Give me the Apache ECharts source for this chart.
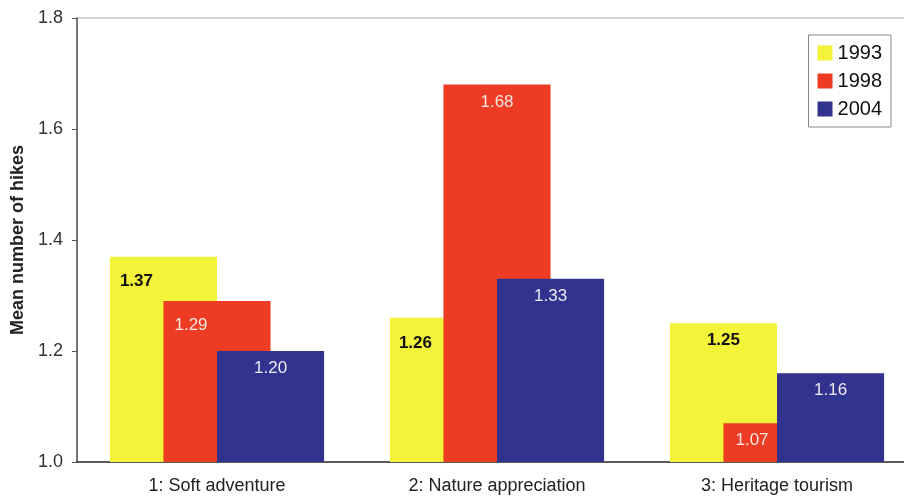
<!DOCTYPE html>
<html><head><meta charset="utf-8">
<script src="https://cdn.jsdelivr.net/npm/echarts@6/dist/echarts.min.js"></script>
<style>html,body{margin:0;padding:0;background:#fff}#c{width:904px;height:496px}</style>
</head><body><div id="c"></div>
<script>
var categories = ['1: Soft adventure', '2: Nature appreciation', '3: Heritage tourism'];
var seriesNames = ['1993', '1998', '2004'];
var values1993 = [1.37, 1.26, 1.25];
var values1998 = [1.29, 1.68, 1.07];
var values2004 = [1.20, 1.33, 1.16];
var yTicks = [1.0, 1.2, 1.4, 1.6, 1.8];

var colors = ['#f3f33a', '#ee3b24', '#31338f'];
var labelColors = ['#111', '#f6e4de', '#eceaf4'];
var labelWeights = ['bold', 'normal', 'normal'];
// per-item label nudges (pixels) so labels sit in the visible part of overlapped bars
var labelOffsets = [
  [[-27, 7], [-28, 8], [0, 0]],
  [[-26, 7], [0, 0], [-25, 0]],
  [[0, 0], [0, 0], [0, 0]]
];
var allValues = [values1993, values1998, values2004];

var series = seriesNames.map(function (name, si) {
  return {
    name: name,
    type: 'bar',
    barGap: '-50%',
    barCategoryGap: '23.5%',
    itemStyle: { color: colors[si] },
    label: {
      show: true,
      position: 'insideTop',
      distance: 9,
      fontFamily: 'Liberation Sans, Arial, sans-serif',
      fontSize: 17,
      color: labelColors[si],
      fontWeight: labelWeights[si],
      formatter: function (p) { return p.value.toFixed(2); }
    },
    data: allValues[si].map(function (v, i) {
      return { value: v, label: { offset: labelOffsets[si][i] } };
    })
  };
});

var chart = echarts.init(document.getElementById('c'));
chart.setOption({
  animation: false,
  backgroundColor: '#fff',
  textStyle: { fontFamily: 'Liberation Sans, Arial, sans-serif' },
  grid: { left: 77, width: 840, top: 18, height: 444, containLabel: false, outerBoundsMode: 'none', show: true, borderColor: '#aaa', borderWidth: 1 },
  legend: {
    data: seriesNames,
    orient: 'vertical',
    right: 13,
    top: 35,
    itemWidth: 15,
    itemHeight: 15,
    itemGap: 8,
    padding: [8, 9, 8, 9],
    borderColor: '#888',
    borderWidth: 1,
    backgroundColor: '#fff',
    icon: 'rect',
    textStyle: { fontSize: 20, color: '#111', fontFamily: 'Liberation Sans, Arial, sans-serif' }
  },
  xAxis: {
    type: 'category',
    data: categories,
    axisLine: { lineStyle: { color: '#333', width: 1.5 } },
    axisTick: { show: false },
    axisLabel: { fontSize: 18, color: '#222', margin: 15 }
  },
  yAxis: {
    type: 'value',
    min: yTicks[0],
    max: yTicks[yTicks.length - 1],
    interval: 0.2,
    name: 'Mean number of hikes',
    nameLocation: 'middle',
    nameGap: 50,
    nameTextStyle: { fontSize: 18, fontWeight: 'bold', color: '#222' },
    axisLine: { show: true, lineStyle: { color: '#555', width: 1.5 } },
    axisTick: { show: true, length: 5, lineStyle: { color: '#555' } },
    splitLine: { show: false },
    axisLabel: { fontSize: 18, color: '#333', margin: 14, formatter: function (v) { return v.toFixed(1); } }
  },
  series: series
});
</script>
</body></html>
